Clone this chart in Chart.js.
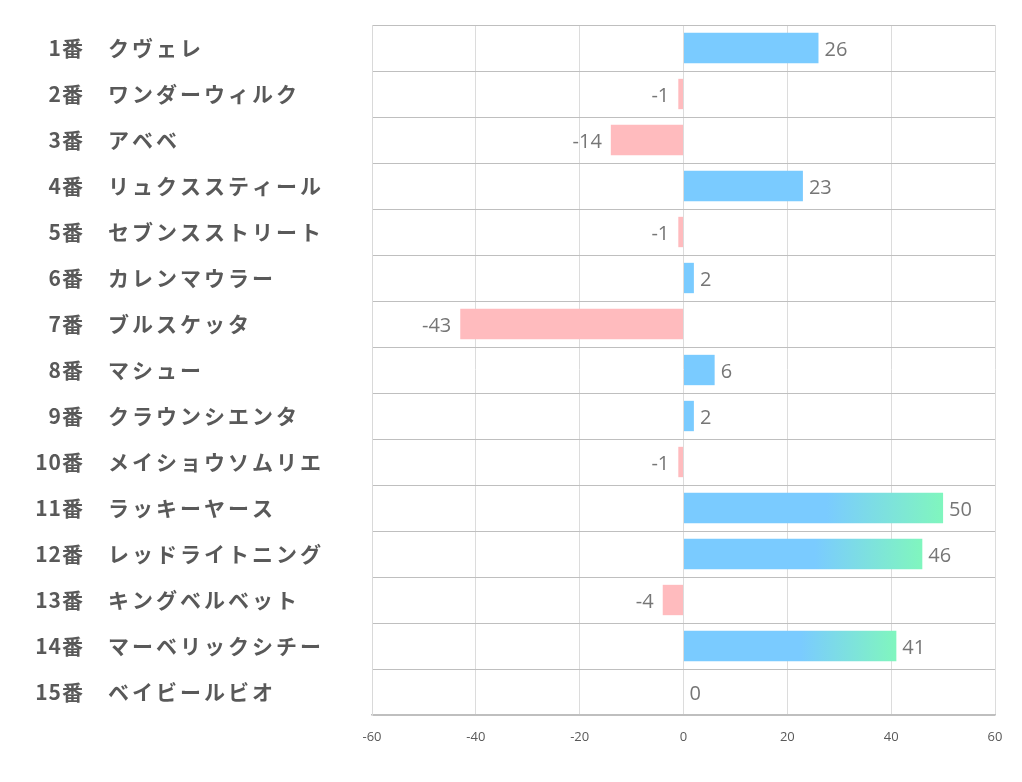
<!DOCTYPE html>
<html><head><meta charset="utf-8">
<script src="https://cdn.jsdelivr.net/npm/chart.js@4.4.0/dist/chart.umd.min.js"></script>
<style>html,body{margin:0;padding:0;background:#fff}#wrap{width:1022px;height:782px}</style>
</head><body><div id="wrap"><canvas id="c" width="1022" height="782"></canvas></div>
<script>
const horseNumbers = ["1番","2番","3番","4番","5番","6番","7番","8番","9番","10番","11番","12番","13番","14番","15番"];
const horseNames = ["クヴェレ","ワンダーウィルク","アベベ","リュクススティール","セブンスストリート","カレンマウラー","ブルスケッタ","マシュー","クラウンシエンタ","メイショウソムリエ","ラッキーヤース","レッドライトニング","キングベルベット","マーベリックシチー","ベイビールビオ"];
const scores = [26,-1,-14,23,-1,2,-43,6,2,-1,50,46,-4,41,0];
const xTicks = [-60,-40,-20,0,20,40,60];

const BLUE = 'rgb(122,203,255)', GREEN = 'rgb(128,246,190)', PINK = 'rgb(255,187,190)';

function barColor(ctx){
  const v = ctx.raw;
  if (v < 0) return PINK;
  if (v < 40) return BLUE;
  const chart = ctx.chart;
  const xs = chart.scales.x;
  if (!chart.chartArea || !xs) return BLUE;
  const x0 = xs.getPixelForValue(0), x1 = xs.getPixelForValue(v);
  if (!isFinite(x0) || !isFinite(x1)) return BLUE;
  const g = chart.ctx.createLinearGradient(x0, 0, x1, 0);
  g.addColorStop(0, BLUE);
  g.addColorStop(0.55, BLUE);
  g.addColorStop(1, GREEN);
  return g;
}

const labelPlugin = {
  id: 'labels',
  afterDatasetsDraw(chart){
    const c = chart.ctx, meta = chart.getDatasetMeta(0), ys = chart.scales.y;
    c.save();
    c.font = '20px "Open Sans", "Noto Sans", sans-serif';
    c.fillStyle = '#767676';
    c.textBaseline = 'middle';
    meta.data.forEach((bar, i) => {
      const v = scores[i];
      if (v < 0) { c.textAlign = 'right'; c.fillText(String(v), bar.x - 9, bar.y + 2); }
      else { c.textAlign = 'left'; c.fillText(String(v), bar.x + 6, bar.y + 2); }
    });
    c.font = 'bold 21px "Noto Sans CJK JP", sans-serif';
    c.fillStyle = '#595959';
    horseNumbers.forEach((n, i) => {
      const y = ys.getPixelForValue(i);
      c.letterSpacing = '1px';
      c.textAlign = 'right'; c.fillText(n, 84, y);
      c.letterSpacing = '3px';
      c.textAlign = 'left'; c.fillText(horseNames[i], 108, y);
    });
    c.restore();
  }
};

new Chart(document.getElementById('c'), {
  type: 'bar',
  data: {
    labels: horseNames,
    datasets: [{ data: scores, backgroundColor: barColor, barPercentage: 0.66, categoryPercentage: 1, borderWidth: 0 }]
  },
  options: {
    indexAxis: 'y',
    responsive: false,
    animation: false,
    layout: { padding: { top: 25, right: 27, left: 0, bottom: 0 } },
    plugins: { legend: { display: false }, tooltip: { enabled: false } },
    scales: {
      x: {
        min: -60, max: 60,
        afterBuildTicks: s => { s.ticks = xTicks.map(v => ({ value: v })); },
        afterFit: s => { s.height = 67; },
        grid: { color: '#dcdcdc', lineWidth: 1, drawTicks: false },
        border: { color: '#bfbfbf', width: 1.5 },
        ticks: { color: '#595959', font: { size: 13, family: '"Open Sans", "Noto Sans", sans-serif' }, padding: 14, maxRotation: 0 }
      },
      y: {
        offset: true,
        afterFit: s => { s.width = 372; },
        grid: { offset: true, color: '#bfbfbf', lineWidth: 1, drawTicks: false },
        border: { color: '#d9d9d9' },
        ticks: { display: false }
      }
    }
  },
  plugins: [labelPlugin]
});
</script></body></html>
